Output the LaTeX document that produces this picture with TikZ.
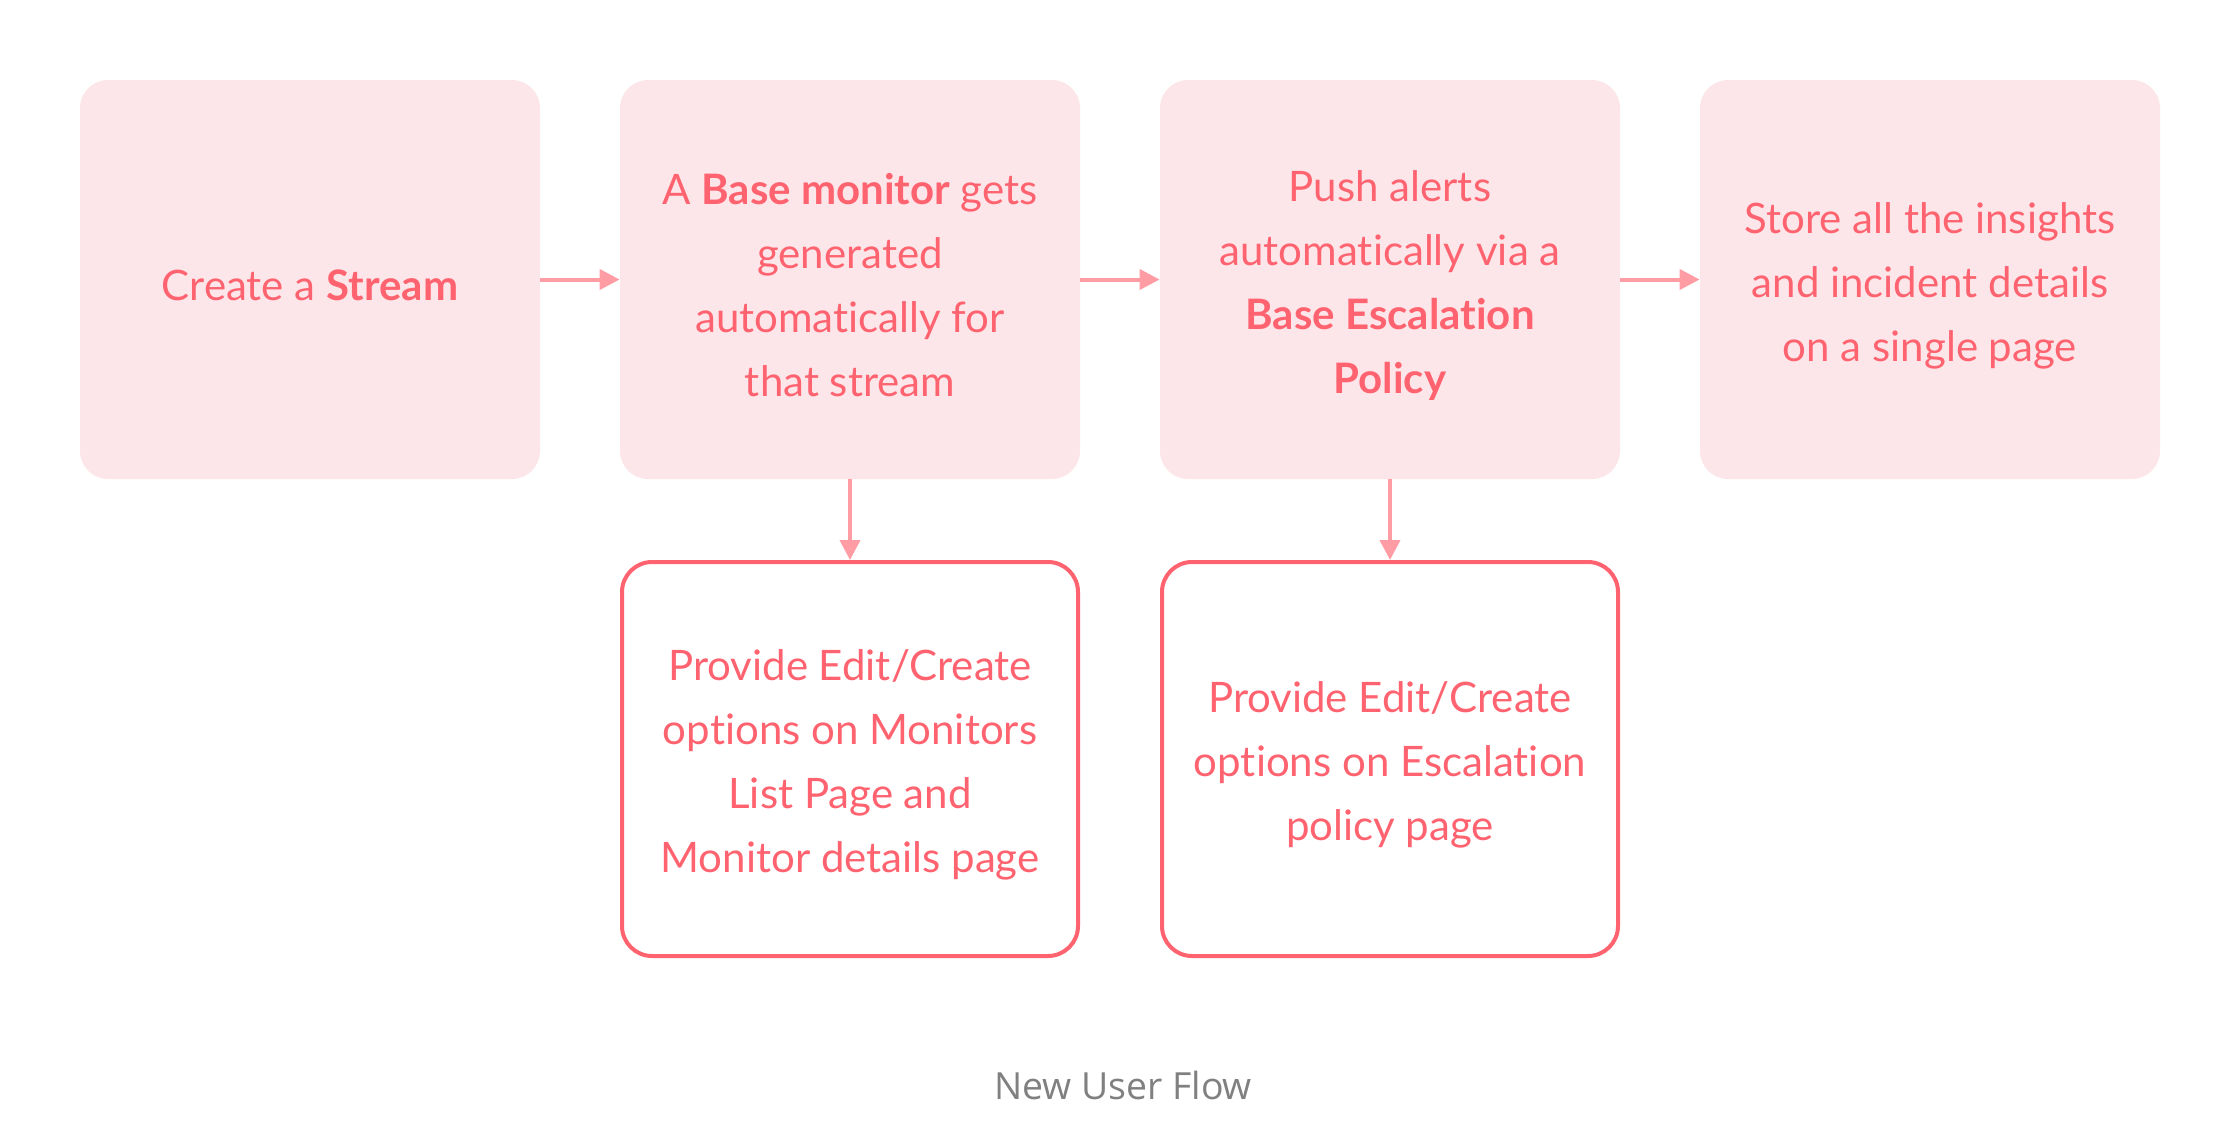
\documentclass[tikz,border=0pt]{standalone}
\usepackage{fontspec}
\setmainfont{Lato}[Ligatures=NoCommon]
\newfontfamily\capfont{Open Sans}
\usetikzlibrary{arrows.meta}
\definecolor{boxfill}{HTML}{FDE6E9}
\definecolor{txt}{HTML}{FF6370}
\definecolor{arr}{HTML}{FF9CA4}
\definecolor{capgray}{HTML}{808080}
\tikzset{
  boxtext/.style={align=center, text=txt, font=\fontsize{21pt}{32pt}\selectfont, inner sep=0pt, yshift=-3pt},
  filledbox/.style={rectangle, rounded corners=14pt, fill=boxfill, minimum width=230pt, minimum height=199.5pt, inner sep=0pt},
  outlinebox/.style={rectangle, rounded corners=15pt, draw=txt, line width=2pt, fill=white, minimum width=228pt, minimum height=197pt, inner sep=0pt},
  flow/.style={draw=arr, line width=2pt, -{Triangle[length=10pt,width=10pt]}, shorten >=0pt}
}
\begin{document}
\begin{tikzpicture}[x=0.5pt,y=-0.5pt]
\useasboundingbox (0,0) rectangle (2240,1140);
\fill[white] (0,0) rectangle (2240,1140);
\node[filledbox, label={[boxtext]center:{Create a \textbf{Stream}}}] (b1) at (310,279.5) {};
\node[filledbox, label={[boxtext]center:{A \textbf{Base monitor} gets\\generated\\automatically for\\that stream}}] (b2) at (850,279.5) {};
\node[filledbox, label={[boxtext]center:{Push alerts\\automatically via a\\\textbf{Base Escalation}\\\textbf{Policy}}}] (b3) at (1390,279.5) {};
\node[filledbox, label={[boxtext]center:{Store all the insights\\and incident details\\on a single page}}] (b4) at (1930,279.5) {};
\node[outlinebox, label={[boxtext]center:{Provide Edit/Create\\options on Monitors\\List Page and\\Monitor details page}}] (b5) at (850,759) {};
\node[outlinebox, label={[boxtext]center:{Provide Edit/Create\\options on Escalation\\policy page}}] (b6) at (1390,759) {};
\node[text=capgray, font=\capfont\fontsize{18.7pt}{22pt}\selectfont] (cap) at (1123,1085) {New User Flow};
\draw[flow] (b1.east) -- (b2.west);
\draw[flow] (b2.east) -- (b3.west);
\draw[flow] (b3.east) -- (b4.west);
\draw[flow] (b2.south) -- (b5.north);
\draw[flow] (b3.south) -- (b6.north);
\end{tikzpicture}
\end{document}
